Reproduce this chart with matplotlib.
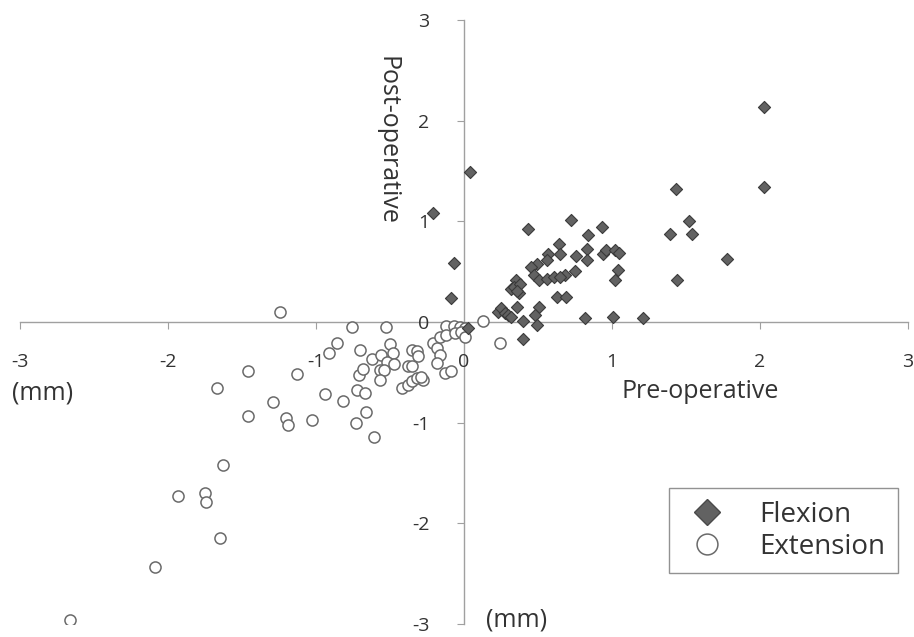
import matplotlib
matplotlib.use("Agg")
import matplotlib.pyplot as plt
from matplotlib.lines import Line2D

flex_x = [0.04, -0.07, -0.09, -0.21, 0.43, 0.72, 0.93, 0.84, 1.39, 1.43, 1.44,
          0.82, 1.01, 1.21, 1.02, 1.04, 0.94, 0.96, 1.02, 1.05, 0.83, 0.76, 0.83,
          0.64, 0.65, 0.57, 0.56, 0.49, 0.45, 0.47, 0.51, 0.56, 0.61, 0.68, 0.75,
          0.65, 0.63, 0.69, 0.35, 0.32, 0.37, 0.34, 0.38, 0.36, 0.36, 0.23, 0.25,
          0.28, 0.30, 0.32, 0.40, 0.51, 0.48, 0.49, 0.40, 2.03, 2.03, 1.52, 1.54,
          1.78, 0.03]
flex_y = [1.49, 0.59, 0.24, 1.08, 0.92, 1.01, 0.94, 0.86, 0.87, 1.32, 0.42,
          0.04, 0.05, 0.04, 0.42, 0.52, 0.68, 0.72, 0.72, 0.69, 0.73, 0.66, 0.62,
          0.77, 0.68, 0.68, 0.62, 0.58, 0.55, 0.47, 0.42, 0.43, 0.45, 0.47, 0.51,
          0.45, 0.25, 0.25, 0.42, 0.33, 0.29, 0.35, 0.38, 0.31, 0.15, 0.10, 0.14,
          0.09, 0.07, 0.05, 0.01, 0.15, 0.07, -0.03, -0.17, 2.14, 1.34, 1.00, 0.87,
          0.63, -0.06]

ext_x = [-1.67, -1.63, -1.93, -1.75, -1.74, -1.65, -2.09, -2.66,
         -1.24, -0.76, -0.86, -0.91, -0.70, -1.46, -1.13,
         -0.71, -0.68, -0.62,
         -0.94, -1.29, -0.82, -0.72, -0.67, -1.46, -1.20, -1.19, -1.03, -0.73, -0.66, -0.61,
         -0.53, -0.50,
         -0.56, -0.48, -0.52, -0.47, -0.57, -0.54, -0.57,
         -0.35, -0.32, -0.31, -0.38, -0.35,
         -0.42, -0.38, -0.35, -0.32, -0.28, -0.29,
         -0.21, -0.18, -0.16, -0.18, -0.13, -0.09,
         -0.12, -0.07, -0.03, 0.01,
         -0.16, -0.12, -0.06, -0.02, 0.01,
         0.13, 0.24]
ext_y = [-0.66, -1.42, -1.73, -1.70, -1.79, -2.15, -2.43, -2.96,
         0.10, -0.05, -0.21, -0.31, -0.28, -0.49, -0.52,
         -0.53, -0.47, -0.37,
         -0.72, -0.79, -0.78, -0.68, -0.71, -0.93, -0.95, -1.02, -0.97, -1.00, -0.89, -1.14,
         -0.05, -0.22,
         -0.33, -0.31, -0.40, -0.42, -0.48, -0.48, -0.58,
         -0.28, -0.29, -0.34, -0.44, -0.44,
         -0.66, -0.63, -0.59, -0.56, -0.58, -0.55,
         -0.21, -0.26, -0.33, -0.41, -0.51, -0.49,
         -0.04, -0.04, -0.05, -0.06,
         -0.15, -0.13, -0.11, -0.10, -0.15,
         0.01, -0.21]

ticks = [-3, -2, -1, 0, 1, 2, 3]
tick_labels = ["-3", "-2", "-1", "0", "1", "2", "3"]

plt.rcParams['font.family'] = ['Open Sans', 'DejaVu Sans']

fig = plt.figure(figsize=(9.14, 6.37), dpi=100)
ax = fig.add_axes([20/914, 13/637, 888/914, 604/637])
ax.set_xlim(-3, 3)
ax.set_ylim(-3, 3)

axis_col = '#a0a0a0'
for s in ['top', 'right']:
    ax.spines[s].set_visible(False)
ax.spines['left'].set_position(('data', 0))
ax.spines['bottom'].set_position(('data', 0))
for s in ['left', 'bottom']:
    ax.spines[s].set_color(axis_col)
    ax.spines[s].set_linewidth(1.0)
    ax.spines[s].set_zorder(1)

ax.set_xticks(ticks)
ax.set_xticklabels(tick_labels)
ax.set_yticks(ticks)
ax.set_yticklabels(tick_labels)
ax.tick_params(axis='x', direction='out', length=5, color=axis_col, pad=17,
               labelsize=14, labelcolor='#333333')
ax.tick_params(axis='y', direction='out', length=5, color=axis_col, pad=20,
               labelsize=14, labelcolor='#333333')

ax.scatter(ext_x, ext_y, s=64, marker='o', facecolors='white',
           edgecolors='#6a6a6a', linewidths=1.1, zorder=3)
ax.scatter(flex_x, flex_y, s=38, marker='D', facecolors='#626262',
           edgecolors='#3a3a3a', linewidths=0.8, zorder=4)

txt_col = '#333333'
fig.text(387/914, 1 - 140/637, "Post-operative", rotation=270, ha='center',
         va='center', fontsize=18, color=txt_col)
fig.text(700/914, 1 - 392/637, "Pre-operative", ha='center', va='center',
         fontsize=18, color=txt_col)
fig.text(12/914, 1 - 393/637, "(mm)", ha='left', va='center',
         fontsize=18, color=txt_col)
fig.text(486/914, 1 - 620/637, "(mm)", ha='left', va='center',
         fontsize=18, color=txt_col)

handles = [
    Line2D([], [], linestyle='none', marker='D', markersize=13,
           markerfacecolor='#626262', markeredgecolor='#4a4a4a', label='Flexion'),
    Line2D([], [], linestyle='none', marker='o', markersize=15,
           markerfacecolor='white', markeredgecolor='#6a6a6a', markeredgewidth=1.1,
           label='Extension'),
]
leg = fig.legend(handles=handles, loc='upper right',
                 bbox_to_anchor=(898/914, 1 - 488/637), bbox_transform=fig.transFigure,
                 borderaxespad=0, fancybox=False, fontsize=20, frameon=True,
                 handletextpad=1.0, borderpad=0.45, labelspacing=0.15,
                 handlelength=1.8)
leg.get_frame().set_edgecolor('#777777')
leg.get_frame().set_linewidth(1.0)
for t in leg.get_texts():
    t.set_color(txt_col)

fig.savefig("out.png", dpi=100)
